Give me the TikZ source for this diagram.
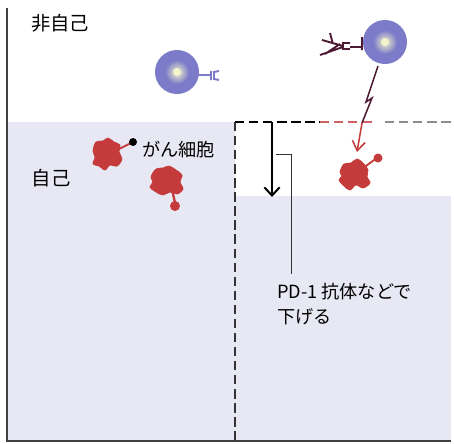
\documentclass[tikz,border=0pt]{standalone}
\usepackage{fontspec}
\newfontfamily\jp{Noto Sans CJK JP}
\usetikzlibrary{arrows.meta, positioning}

\definecolor{selfbg}{HTML}{E8E8F4}
\definecolor{cellblue}{HTML}{7B7BC9}
\definecolor{cellcore}{HTML}{F4F4CC}
\definecolor{tumor}{HTML}{C53B3B}
\definecolor{abody}{HTML}{4D1933}

\tikzset{
  label/.style={font=\jp\fontsize{15.5}{21.3}\selectfont, inner sep=0pt, align=left},
  border/.style={draw=black!75, line width=1.2pt},
  cutline/.style={line width=1.1pt, dash pattern=on 8pt off 4pt},
  blob/.style={fill=tumor, draw=tumor, line width=0.6pt},
}

\begin{document}
\begin{tikzpicture}[x=0.03cm, y=-0.03cm]
    \useasboundingbox (0,0) rectangle (454,443);
    \fill[white] (0,0) rectangle (454,443);

    % ---------------- BACKGROUND (self region) ----------------
    \fill[selfbg] (7,122) rectangle (235,441);
    \fill[selfbg] (235,196) rectangle (451,441);
    \draw[border] (7,8) -- (7,441) -- (451,441);

    % lowered threshold: dashed outline
    \draw[cutline] (235,122) -- (320,122);
    \draw[cutline, tumor!80] (320,122) -- (372,122);
    \draw[cutline, black!45] (385,122) -- (451,122);
    \draw[cutline, black!80] (235,122) -- (235,441);

    % ---------------- LABELS ----------------
    \node[label, font=\jp\fontsize{16.5}{20}\selectfont] (nonself) at (60,23) {非自己};
    \node[label, font=\jp\fontsize{16.5}{20}\selectfont] (self) at (51,178) {自己};
    \node[label, anchor=west] (cancer) at (142,150) {がん細胞};
    \node[label, anchor=north west] (pd) at (277,283) {PD-1 抗体などで\\下げる};

    % ---------------- IMMUNE CELLS ----------------
    \fill[cellblue] (177,72) circle (22);
    \shade[inner color=cellcore, outer color=cellblue] (177,72) circle (12);
    \fill[cellcore] (177,72) circle (4);
    \draw[cellblue, line width=1.6pt] (198,75) -- (211,75) (211,71) -- (211,80)
        (219,71) -- (214,72) -- (214,79) -- (219,80);

    \fill[cellblue] (385,42) circle (22);
    \shade[inner color=cellcore, outer color=cellblue] (385,42) circle (12);
    \fill[cellcore] (385,42) circle (4);
    % antibody bound to the cell
    \draw[abody, line width=1.6pt] (362,37) -- (362,50) (362,47) -- (350,47)
        (350,43) -- (343,43) -- (343,49) -- (350,49)
        (343,46) -- (322,40) (330,33) -- (333,44)
        (343,47) -- (320,55) (325,54) -- (340,44);

    % signal: lightning + attack arrow
    \coordinate (zap0) at (378,66);
    \coordinate (zap1) at (366,102);
    \coordinate (zap2) at (372,98);
    \coordinate (zap3) at (362,123);
    \coordinate (hit) at (357,152);
    \draw[abody, line width=1.3pt] (zap0) -- (zap1) -- (zap2) -- (zap3);
    \draw[tumor, line width=1.3pt, -{Straight Barb[length=8pt, width=11pt]}] (zap3) -- (hit);

    % ---------------- CANCER CELLS ----------------
    \begin{scope}[shift={(107,154)}]
        \draw[tumor, line width=1.6pt] (10,-4) -- (26,-12);
        \fill[black] (26,-12) circle (4);
        \filldraw[blob] plot[smooth cycle, tension=0.6] coordinates {(-14,-3) (-11,-12) (-4,-13) (1,-16) (7,-12) (13,-9) (12,-2) (15,5) (10,12) (3,11) (-2,16) (-8,12) (-14,10) (-12,3)};
    \end{scope}
    \begin{scope}[shift={(166,181)}]
        \draw[tumor, line width=2pt] (6,8) -- (9,22);
        \fill[tumor] (9,25) circle (5);
        \filldraw[blob] plot[smooth cycle, tension=0.6] coordinates {(-15,-4) (-10,-12) (-3,-13) (3,-15) (10,-11) (16,-6) (14,1) (17,8) (11,13) (4,11) (-3,14) (-10,11) (-16,6) (-13,1)};
    \end{scope}
    \begin{scope}[shift={(355,174)}]
        \draw[tumor, line width=1.6pt] (8,-6) -- (22,-16);
        \fill[tumor] (23,-16) circle (4.5);
        \filldraw[blob] plot[smooth cycle, tension=0.6] coordinates {(-15,-2) (-11,-10) (-4,-11) (2,-15) (9,-10) (13,-4) (12,3) (15,9) (8,14) (1,11) (-5,16) (-11,12) (-16,6) (-13,2)};
    \end{scope}

    % ---------------- THRESHOLD SHIFT ----------------
    \coordinate (lowtop) at (272,122);
    \coordinate (lowbot) at (272,197);
    \coordinate (leadstart) at (276,154);
    \coordinate (leadend) at (291,274);
    \draw[line width=1.7pt, -{Straight Barb[length=7pt, width=13pt]}] (lowtop) -- (lowbot);
    \draw[black!80, line width=0.8pt] (leadstart) -| (leadend);
\end{tikzpicture}
\end{document}
